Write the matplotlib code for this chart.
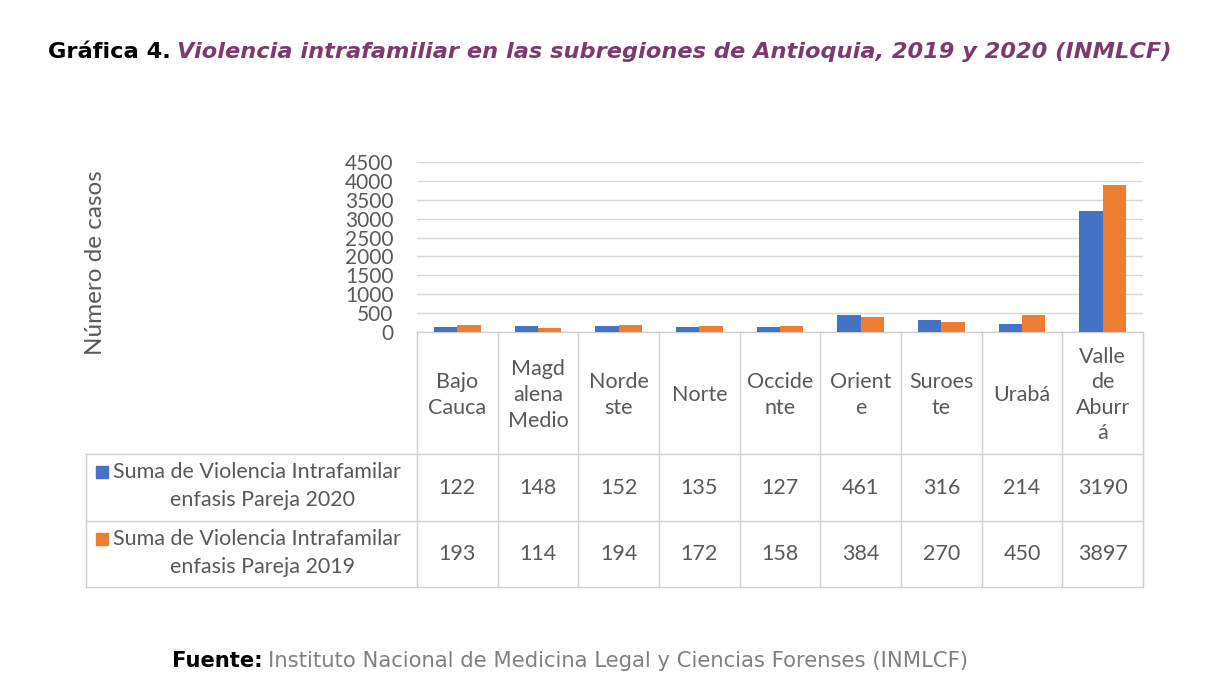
import numpy as np
import matplotlib.pyplot as plt
from matplotlib.patches import Rectangle

# datos
etiquetas = ['Bajo\nCauca', 'Magd\nalena\nMedio', 'Norde\nste', 'Norte', 'Occide\nnte',
             'Orient\ne', 'Suroes\nte', 'Urabá', 'Valle\nde\nAburr\ná']
casos_2020 = [122, 148, 152, 135, 127, 461, 316, 214, 3190]
casos_2019 = [193, 114, 194, 172, 158, 384, 270, 450, 3897]
series = ['enfasis Pareja 2020', 'enfasis Pareja 2019']
y_ticks = list(range(0, 4501, 500))

azul = '#4472C4'
naranja = '#ED7D31'
gris = '#595959'
linea = '#d0d0d0'

W, H = 1212, 686
col_x0, col_x1 = 417, 1143
tab_x0 = 86
y_zero, y_top = 332, 162
fila_y = [332, 454, 521, 587]

fig = plt.figure(figsize=(W / 100, H / 100), dpi=100)
fig.patch.set_facecolor('white')

ax = fig.add_axes([col_x0 / W, 1 - y_zero / H, (col_x1 - col_x0) / W, (y_zero - y_top) / H])
x = np.arange(len(etiquetas))
w = 0.29
ax.bar(x - w / 2, casos_2020, width=w, color=azul, zorder=3)
ax.bar(x + w / 2, casos_2019, width=w, color=naranja, zorder=3)
ax.set_xlim(-0.5, len(etiquetas) - 0.5)
ax.set_ylim(0, 4500)
ax.set_yticks(y_ticks)
ax.set_xticks([])
ax.tick_params(axis='y', length=0, pad=17, labelsize=15, labelcolor=gris)
for lab in ax.get_yticklabels():
    lab.set_fontfamily('Lato')
ax.yaxis.grid(True, color='#d9d9d9', linewidth=1)
for s in ax.spines.values():
    s.set_visible(False)
ax.set_facecolor('none')

# capa en pixeles para tabla y textos
ov = fig.add_axes([0, 0, 1, 1], zorder=-1)
ov.set_xlim(0, W)
ov.set_ylim(H, 0)
ov.axis('off')

cw = (col_x1 - col_x0) / len(etiquetas)
for k in range(len(etiquetas) + 1):
    xx = col_x0 + k * cw
    ov.plot([xx, xx], [fila_y[0], fila_y[3]], color=linea, lw=1)
ov.plot([tab_x0, tab_x0], [fila_y[1], fila_y[3]], color=linea, lw=1)
ov.plot([col_x0, col_x1], [fila_y[0], fila_y[0]], color=linea, lw=1)
for yy in fila_y[1:]:
    ov.plot([tab_x0, col_x1], [yy, yy], color=linea, lw=1)

fs = 15.5
fuente = dict(family='Lato', color=gris)
for i, et in enumerate(etiquetas):
    cx = col_x0 + (i + 0.5) * cw
    ov.text(cx, (fila_y[0] + fila_y[1]) / 2 + 2, et, ha='center', va='center',
            fontsize=fs, linespacing=1.35, **fuente)
    ov.text(cx, (fila_y[1] + fila_y[2]) / 2, str(casos_2020[i]), ha='center', va='center',
            fontsize=fs, **fuente)
    ov.text(cx, (fila_y[2] + fila_y[3]) / 2, str(casos_2019[i]), ha='center', va='center',
            fontsize=fs, **fuente)

for r, (serie, col) in enumerate(zip(series, [azul, naranja])):
    y1 = fila_y[1 + r] + 18
    y2 = fila_y[1 + r] + 46
    ov.add_patch(Rectangle((96, y1 - 6), 12, 12, color=col))
    ov.text(113, y1, 'Suma de Violencia Intrafamilar', ha='left', va='center',
            fontsize=fs, **fuente)
    ov.text(263, y2, serie, ha='center', va='center', fontsize=fs, **fuente)

ov.text(95, 263, 'Número de casos', rotation=90, ha='center', va='center',
        fontsize=17.5, **fuente)


def linea_doble(x0, x1, y, a, b, kw_a, kw_b, gap):
    # dos textos seguidos, ajustados al ancho x0..x1
    ta = ov.text(x0, y, a, ha='left', va='center', fontsize=10, **kw_a)
    tb = ov.text(x0, y, b, ha='left', va='center', fontsize=10, **kw_b)
    fig.canvas.draw()
    wa = ta.get_window_extent().width
    wb = tb.get_window_extent().width
    k = (x1 - x0 - gap) / (wa + wb)
    ta.set_fontsize(10 * k)
    tb.set_fontsize(10 * k)
    tb.set_x(x0 + wa * k + gap)


# titulo
linea_doble(48, 1168, 52, 'Gráfica 4.',
            'Violencia intrafamiliar en las subregiones de Antioquia, 2019 y 2020 (INMLCF)',
            dict(fontweight='bold', color='black', family='DejaVu Sans'),
            dict(fontstyle='italic', fontweight='bold', color='#7B3B6F', family='DejaVu Sans'),
            6)

# fuente
linea_doble(172, 968, 661, 'Fuente:',
            'Instituto Nacional de Medicina Legal y Ciencias Forenses (INMLCF)',
            dict(fontweight='bold', color='black', family='DejaVu Sans'),
            dict(color='#808080', family='DejaVu Sans'),
            5)

fig.savefig('out.png', dpi=100)
